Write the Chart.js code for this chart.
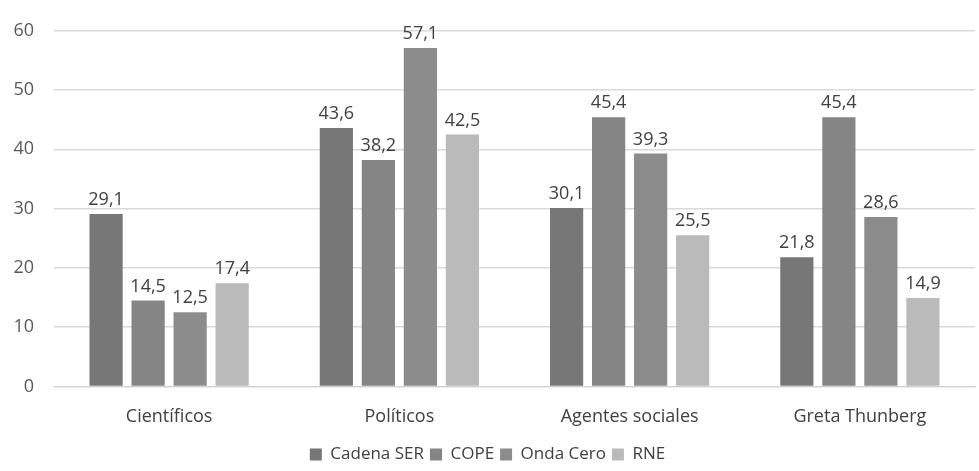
<!DOCTYPE html>
<html>
<head>
<meta charset="utf-8">
<script src="https://cdn.jsdelivr.net/npm/chart.js@4"></script>
<style>
  html, body { margin: 0; padding: 0; background: #fff; }
  #wrap { width: 979px; height: 471px; }
</style>
</head>
<body>
<div id="wrap"><canvas id="chart"></canvas></div>
<script>
// Chart data
const categories = ['Científicos', 'Políticos', 'Agentes sociales', 'Greta Thunberg'];
const cadenaSer = [29.1, 43.6, 30.1, 21.8];
const cope = [14.5, 38.2, 45.4, 45.4];
const ondaCero = [12.5, 57.1, 39.3, 28.6];
const rne = [17.4, 42.5, 25.5, 14.9];
const seriesNames = ['Cadena SER', 'COPE', 'Onda Cero', 'RNE'];
const yTicks = [0, 10, 20, 30, 40, 50, 60];

const colors = ['#777777', '#858585', '#8c8c8c', '#bababa'];
const fontFamily = '"Open Sans", sans-serif';

// Simple value labels above bars (no datalabels plugin available)
const valueLabels = {
    id: 'valueLabels',
    afterDatasetsDraw(chart) {
        const ctx = chart.ctx;
        ctx.save();
        ctx.font = '18px ' + fontFamily;
        ctx.fillStyle = '#404040';
        ctx.textAlign = 'center';
        ctx.textBaseline = 'bottom';
        chart.data.datasets.forEach((ds, i) => {
            chart.getDatasetMeta(i).data.forEach((bar, j) => {
                const txt = ds.data[j].toFixed(1).replace('.', ',');
                ctx.fillText(txt, bar.x, bar.y - 5);
            });
        });
        ctx.restore();
    }
};

const ctx = document.getElementById('chart').getContext('2d');
new Chart(ctx, {
    type: 'bar',
    data: {
        labels: categories,
        datasets: [cadenaSer, cope, ondaCero, rne].map((d, i) => ({
            label: seriesNames[i],
            data: d,
            backgroundColor: colors[i],
            barPercentage: 0.79,
            categoryPercentage: 0.73
        }))
    },
    options: {
        responsive: true,
        maintainAspectRatio: false,
        animation: false,
        layout: { padding: { top: 15, right: 4, left: 0, bottom: -2 } },
        scales: {
            x: {
                grid: { display: false },
                border: { color: '#d0d0d0', width: 1 },
                ticks: {
                    color: '#404040',
                    font: { family: fontFamily, size: 18 },
                    padding: 12
                }
            },
            y: {
                min: 0,
                max: 60,
                afterBuildTicks: axis => { axis.ticks = yTicks.map(v => ({ value: v })); },
                afterFit: axis => { axis.width = 54; },
                grid: { color: '#d9d9d9', lineWidth: 1.5, drawTicks: false },
                border: { display: false },
                ticks: {
                    color: '#595959',
                    font: { family: fontFamily, size: 18 },
                    padding: 20
                }
            }
        },
        plugins: {
            legend: {
                position: 'bottom',
                labels: {
                    boxWidth: 12,
                    boxHeight: 12,
                    color: '#404040',
                    font: { family: fontFamily, size: 17 },
                    padding: 6
                }
            },
            tooltip: { enabled: false }
        }
    },
    plugins: [valueLabels]
});
</script>
</body>
</html>
